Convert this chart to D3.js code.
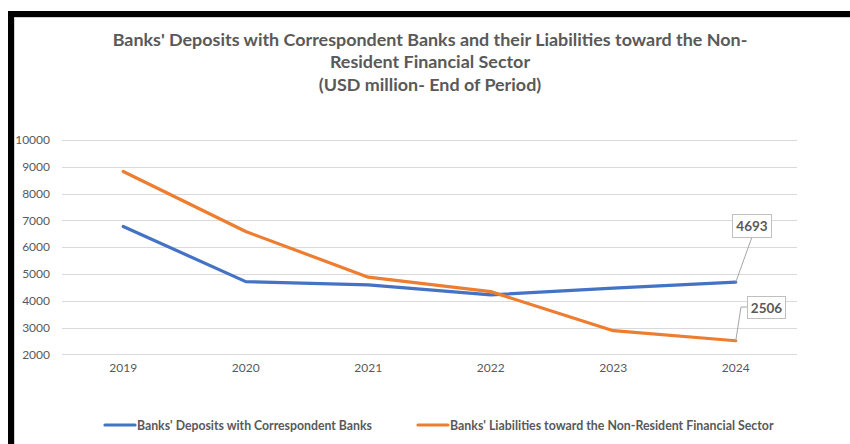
<!DOCTYPE html>
<html>
<head>
<meta charset="utf-8">
<script src="https://cdn.jsdelivr.net/npm/d3@7"></script>
<style>
  html, body { margin: 0; padding: 0; background: #fff; }
  svg { display: block; }
  text { font-family: Lato, "Open Sans", sans-serif; fill: #595959; }
</style>
</head>
<body>
<svg id="chart" width="850" height="444"></svg>
<script>
// Data (USD million, end of period)
const years = ["2019", "2020", "2021", "2022", "2023", "2024"];
const deposits = [6770, 4714, 4590, 4217, 4467, 4693];
const liabilities = [8826, 6583, 4878, 4340, 2882, 2506];
const yTicks = [2000, 3000, 4000, 5000, 6000, 7000, 8000, 9000, 10000];
const seriesNames = [
  "Banks' Deposits with Correspondent Banks",
  "Banks' Liabilities toward the Non-Resident Financial Sector"
];
const seriesColors = ["#4472C4", "#ED7D31"];
const titleLines = [
  "Banks' Deposits with Correspondent Banks and their Liabilities toward the Non-",
  "Resident Financial Sector",
  "(USD million- End of Period)"
];

const svg = d3.select("#chart");

// scale a text element's font so its first line spans the wanted width
function fitFont(sel, width, base) {
  sel.attr("font-size", base);
  const w = sel.node().getComputedTextLength();
  const size = base * width / w;
  sel.attr("font-size", size);
  return size;
}

// frame edges
svg.append("rect").attr("x", 8).attr("y", 11).attr("width", 842).attr("height", 6).attr("fill", "#000");
svg.append("rect").attr("x", 8).attr("y", 11).attr("width", 6).attr("height", 433).attr("fill", "#000");
svg.append("line").attr("x1", 14.5).attr("x2", 14.5).attr("y1", 17).attr("y2", 444).attr("stroke", "#d0d0d0");
svg.append("line").attr("x1", 14).attr("x2", 850).attr("y1", 17.5).attr("y2", 17.5).attr("stroke", "#d0d0d0");

// title
const title = svg.append("g").selectAll("text").data(titleLines).join("text")
  .attr("x", 430).attr("y", (d, i) => 45.5 + i * 22.5)
  .attr("text-anchor", "middle")
  .attr("font-weight", "bold")
  .text(d => d);
const titleSize = fitFont(title.filter((d, i) => i === 0), 635, 16);
title.attr("font-size", titleSize);

const x = d3.scaleBand().domain(years).range([62, 797]);
const y = d3.scaleLinear().domain([2000, 10000]).range([354.3, 140]);
const cx = d => x(d) + x.bandwidth() / 2;

// gridlines
svg.append("g").selectAll("line").data(yTicks).join("line")
  .attr("x1", 62).attr("x2", 797)
  .attr("y1", d => Math.round(y(d)) + 0.5).attr("y2", d => Math.round(y(d)) + 0.5)
  .attr("stroke", "#d9d9d9").attr("stroke-width", 1);

// y axis labels
const yAxis = svg.append("g").attr("transform", "translate(50,0)")
  .call(d3.axisLeft(y).tickValues(yTicks).tickSize(0).tickPadding(0).tickFormat(d3.format("d")));
yAxis.select(".domain").remove();
yAxis.selectAll("text").attr("font-size", 12).style("font-family", null).attr("fill", "#595959");

// x axis labels
const xAxis = svg.append("g").attr("transform", "translate(0,363)")
  .call(d3.axisBottom(x).tickSize(0).tickPadding(0));
xAxis.select(".domain").remove();
xAxis.selectAll("text").attr("font-size", 12).style("font-family", null).attr("fill", "#595959");

// series lines
const line = d3.line().x((d, i) => cx(years[i])).y(d => y(d));
[deposits, liabilities].forEach((vals, k) => {
  svg.append("path").datum(vals)
    .attr("d", line)
    .attr("fill", "none")
    .attr("stroke", seriesColors[k])
    .attr("stroke-width", 3.2)
    .attr("stroke-linejoin", "round")
    .attr("stroke-linecap", "round");
});

// data labels for the last year
const last = years.length - 1;
const labels = [
  { v: deposits[last], bx: 732, by: 214, bw: 39, bh: 23, leader: [[752, 237]] },
  { v: liabilities[last], bx: 747, by: 296, bw: 38, bh: 22, leader: [[747, 307], [741, 307]] }
];
labels.forEach(l => {
  const px = cx(years[last]), py = y(l.v);
  const pts = l.leader.concat([[px, py]]);
  svg.append("path").attr("d", d3.line()(pts)).attr("fill", "none").attr("stroke", "#a6a6a6").attr("stroke-width", 1);
  svg.append("rect").attr("x", l.bx + 0.5).attr("y", l.by + 0.5).attr("width", l.bw).attr("height", l.bh)
    .attr("fill", "#fff").attr("stroke", "#bfbfbf").attr("stroke-width", 1);
  svg.append("text").attr("x", l.bx + l.bw / 2 + 0.5).attr("y", l.by + l.bh / 2 + 5.5)
    .attr("text-anchor", "middle").attr("font-size", 13.5).attr("font-weight", "bold")
    .text(d3.format("d")(l.v));
});

// legend
const legendX = [105, 418];
seriesNames.forEach((name, k) => {
  const g = svg.append("g").attr("transform", `translate(${legendX[k]},425)`);
  g.append("line").attr("x1", 0).attr("x2", 30).attr("y1", 0).attr("y2", 0)
    .attr("stroke", seriesColors[k]).attr("stroke-width", 3.2).attr("stroke-linecap", "round");
  const t = g.append("text").attr("x", 32).attr("y", 4.5).attr("font-weight", "bold").text(name);
  fitFont(t, k === 0 ? 235 : 324, 12);
});
</script>
</body>
</html>
